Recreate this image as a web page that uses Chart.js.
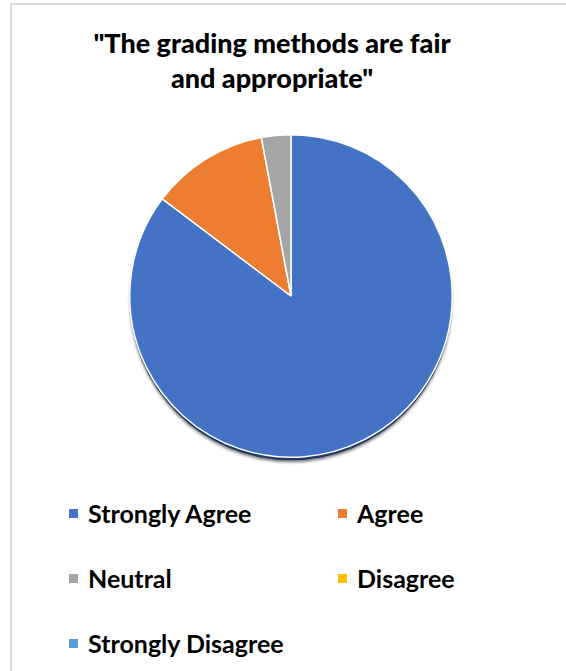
<!DOCTYPE html>
<html>
<head>
<meta charset="utf-8">
<script src="https://cdn.jsdelivr.net/npm/chart.js@4"></script>
<style>
  html, body { margin: 0; padding: 0; background: #fff; }
  body { width: 566px; height: 671px; position: relative; overflow: hidden; font-family: Lato, "Open Sans", sans-serif; }
  #frame { position: absolute; left: 10px; top: 3px; width: 600px; height: 700px; border-left: 2px solid #d9d9d9; border-top: 2px solid #d9d9d9; }
  #title { position: absolute; left: 12px; width: 520px; top: 25px; text-align: center; font-weight: 900; font-size: 27px; line-height: 35px; color: #000; }
  #wrap { position: absolute; left: 116px; top: 121px; width: 350px; height: 350px; }
  #legend { position: absolute; left: 0; top: 0; }
  .item { position: absolute; font-weight: bold; font-size: 25px; line-height: 24px; color: #000; white-space: nowrap; }
  .box { position: absolute; width: 9px; height: 9px; }
</style>
</head>
<body>
<div id="frame"></div>
<div id="title"></div>
<div id="wrap"><canvas id="chart"></canvas></div>
<div id="legend"></div>
<script>
const title = ['"The grading methods are fair', 'and appropriate"'];
const labels = ['Strongly Agree', 'Agree', 'Neutral', 'Disagree', 'Strongly Disagree'];
const counts = [29, 4, 1, 0, 0];
const colors = ['#4472C4', '#ED7D31', '#A5A5A5', '#FFC000', '#5B9BD5'];

document.getElementById('title').innerHTML = title.join('<br>');

// legend in two columns like the original
const legend = document.getElementById('legend');
labels.forEach((name, i) => {
  const col = i % 2, row = Math.floor(i / 2);
  const x = col === 0 ? 69 : 338;
  const y = 513 + row * 65;
  const box = document.createElement('div');
  box.className = 'box';
  box.style.left = x + 'px';
  box.style.top = (y - 4) + 'px';
  box.style.background = colors[i];
  legend.appendChild(box);
  const t = document.createElement('div');
  t.className = 'item';
  t.textContent = name;
  t.style.left = (x + 19) + 'px';
  t.style.top = (y - 12) + 'px';
  legend.appendChild(t);
});

// dark rim under the pie
const pieShadow = {
  id: 'pieShadow',
  beforeDatasetsDraw(chart) {
    const arc = chart.getDatasetMeta(0).data[0];
    if (!arc) return;
    const ctx = chart.ctx;
    ctx.save();
    ctx.shadowColor = 'rgba(0,0,0,0.5)';
    ctx.shadowBlur = 3;
    ctx.shadowOffsetY = 2;
    ctx.fillStyle = '#1f3864';
    ctx.beginPath();
    ctx.arc(arc.x, arc.y + 3, arc.outerRadius, 0, Math.PI * 2);
    ctx.fill();
    ctx.restore();
  }
};

new Chart(document.getElementById('chart'), {
  type: 'pie',
  data: {
    labels: labels,
    datasets: [{
      data: counts,
      backgroundColor: colors,
      borderColor: '#ffffff',
      borderWidth: 1.5
    }]
  },
  options: {
    responsive: true,
    maintainAspectRatio: false,
    animation: false,
    layout: { padding: 13 },
    plugins: {
      legend: { display: false },
      tooltip: { enabled: false }
    }
  },
  plugins: [pieShadow]
});
</script>
</body>
</html>
